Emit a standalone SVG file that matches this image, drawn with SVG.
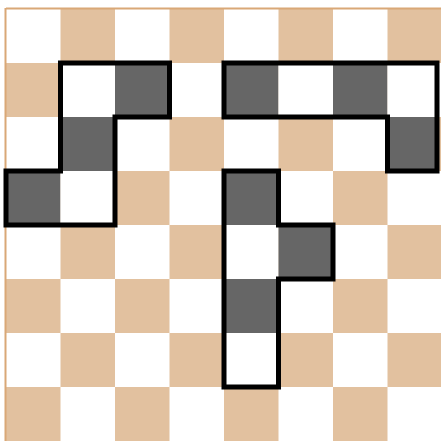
<svg xmlns="http://www.w3.org/2000/svg" width="441" height="441" viewBox="0 0 441 441">
<defs>
<style>
.w{fill:#ffffff}
.t{fill:#e2c19f}
.d{fill:#666666}
.o{fill:none;stroke:#000;stroke-width:5;stroke-linejoin:miter}
</style>
<pattern id="chk" x="6" y="9" width="109" height="108" patternUnits="userSpaceOnUse">
<rect x="0" y="0" width="109" height="108" fill="#fff"/>
<rect x="54.5" y="0" width="54.5" height="54" class="t"/>
<rect x="0" y="54" width="54.5" height="54" class="t"/>
</pattern>
</defs>
<rect x="0" y="0" width="441" height="441" fill="#fff"/>
<g id="board">
<rect x="6" y="9" width="436" height="432" fill="url(#chk)"/>
<line x1="6" y1="8.5" x2="441" y2="8.5" stroke="#d9a877" stroke-width="2"/>
<line x1="5.5" y1="8" x2="5.5" y2="441" stroke="#d9a877" stroke-width="2"/>
</g>
<g id="piece-left">
<rect x="115" y="63" width="54.5" height="54" class="d"/>
<rect x="60.5" y="117" width="54.5" height="54" class="d"/>
<rect x="6" y="171" width="54.5" height="54" class="d"/>
<rect x="60.5" y="63" width="54.5" height="54" class="w"/>
<rect x="60.5" y="171" width="54.5" height="54" class="w"/>
<polygon class="o" points="60.5,63 169.5,63 169.5,117 115,117 115,225 6,225 6,171 60.5,171"/>
</g>
<g id="piece-top-right">
<rect x="224" y="63" width="54.5" height="54" class="d"/>
<rect x="278.5" y="63" width="54.5" height="54" class="w"/>
<rect x="333" y="63" width="54.5" height="54" class="d"/>
<rect x="387.5" y="63" width="50" height="54" class="w"/>
<rect x="387.5" y="117" width="50" height="54" class="d"/>
<polygon class="o" points="224,63 437,63 437,171 387.5,171 387.5,117 224,117"/>
</g>
<g id="piece-bottom">
<rect x="224" y="171" width="54.5" height="54" class="d"/>
<rect x="224" y="225" width="54.5" height="54" class="w"/>
<rect x="278.5" y="225" width="54.5" height="54" class="d"/>
<rect x="224" y="279" width="54.5" height="54" class="d"/>
<rect x="224" y="333" width="54.5" height="54" class="w"/>
<polygon class="o" points="224,171 278.5,171 278.5,225 333,225 333,279 278.5,279 278.5,387 224,387"/>
</g>
</svg>
